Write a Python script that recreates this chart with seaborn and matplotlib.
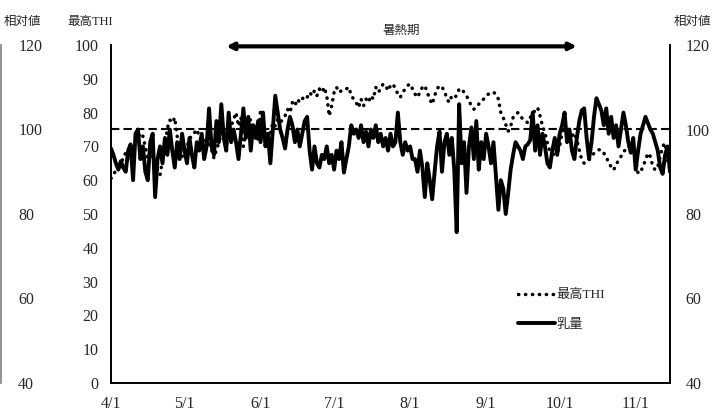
import matplotlib
matplotlib.use("Agg")
import matplotlib.pyplot as plt
import numpy as np
import pandas as pd
import seaborn as sns

# daily values from 4/1 (day 0)
thi_max = [
    60.5, 61.5, 63, 65, 64, 67, 68, 66, 70, 69,
    71, 72.5, 74, 73, 70, 66, 70, 67, 64, 63,
    61.5, 66, 70, 75.5, 77.8, 77, 78.5, 73, 70, 67,
    69, 70, 72, 73.5, 74, 75, 73, 71, 72, 73,
    71, 69, 66.5, 69, 71, 74, 73, 70.5, 74, 76,
    78, 80, 76, 78.5, 70, 74, 77, 78, 73, 75,
    72, 81, 76, 72, 70, 74, 77, 76, 78, 77,
    78, 79, 81, 80, 83, 82, 84, 83, 84, 85,
    84.5, 86, 85, 86.5, 85, 87, 86, 87.5, 85, 79,
    82, 86, 87.5, 86, 86.5, 86.5, 87, 87.5, 85, 84,
    83, 81.5, 84, 82, 84, 83, 85, 84, 87.5, 86,
    87, 88.5, 88, 86.5, 88, 88.5, 87, 85.5, 84.5, 86,
    87, 88, 88.5, 87, 85.5, 84.5, 86, 87.5, 88, 86,
    84, 82.5, 85, 87, 88, 87.5, 86.5, 84, 83, 85,
    84.5, 85, 87, 87, 86, 85, 83.5, 82, 81, 81.5,
    82.5, 83.5, 84, 85, 85.5, 86, 86, 85.5, 84, 80,
    78.5, 76.5, 74.5, 76, 78.5, 79.5, 80, 79, 78, 77.5,
    77, 78.5, 80, 80.5, 81.5, 79, 76, 74, 71, 68.5,
    68, 67.5, 68, 70, 74, 76.5, 74, 72, 73, 74,
    72, 69, 66, 65, 65.5, 66, 67, 68, 68.5, 69,
    69, 68, 67, 65, 64, 63, 64.5, 66, 67, 68.5,
    69, 70, 69.5, 69, 66, 62, 62.5, 64, 66, 68,
    67, 64, 63, 64, 67, 70, 71, 66, 63,
]

milk_rel = [
    95.5, 94, 92, 90.5, 92.5, 91, 90, 95, 96.5, 88,
    99, 100, 93, 96, 90, 88, 97, 99, 84, 93,
    96, 92, 98, 94, 100, 95, 91, 97, 93, 99,
    95, 92, 98, 94, 91, 97, 95, 99, 93, 96,
    105, 96, 94, 102, 97, 106, 98, 95, 104, 97,
    100, 97, 93, 99, 105, 98, 103, 95, 101, 98,
    102, 97, 104, 96, 99, 92, 100, 108, 104, 100,
    98, 95.5, 100, 103, 101, 97, 100, 96, 99, 102,
    103, 95, 90.5, 96, 92, 91, 94, 93, 96, 92,
    94, 90.5, 95, 93, 97, 89.8, 93, 96, 101, 99,
    100, 98, 101, 97, 99.5, 96, 100, 98, 101, 97,
    99, 96, 98, 95, 99, 96, 97, 104, 97, 94,
    97, 95, 96, 93, 93, 90, 95, 91, 84, 92,
    88, 83.5, 90, 96, 99.5, 90, 97, 99, 94, 98,
    90.5, 75.7, 106, 92, 97, 85, 96, 100.5, 93, 102,
    90.5, 97, 93, 99, 96, 92, 97, 89, 81, 88,
    86, 80, 85, 90.5, 94, 97, 96, 95, 93, 96,
    96.5, 97.5, 104, 95, 101, 94, 99, 96, 92, 91,
    95, 98, 94, 99, 101, 104, 97, 100, 95, 93,
    98, 102, 104.5, 105, 98, 93, 97, 103, 107.4, 106,
    104.5, 101, 105, 99, 103, 98, 101, 96, 100, 104,
    101, 97, 94.5, 98, 90.5, 95, 99, 101, 103, 101.5,
    100, 99, 97, 95, 91, 89.5, 94, 96, 90,
]

month_days = [0, 30, 61, 91, 122, 153, 183, 214]
month_labels = ["4/1", "5/1", "6/1", "7/1", "8/1", "9/1", "10/1", "11/1"]
heat_start, heat_end = 47, 190

df = pd.DataFrame({"day": np.arange(len(thi_max)), "thi": thi_max, "milk": milk_rel})

sns.set_style("white")
plt.rcParams["font.family"] = ["Liberation Serif", "Noto Sans CJK JP"]

W, H = 712, 412
fig = plt.figure(figsize=(W / 100, H / 100), dpi=100)
left, right, top, bottom = 111, 670, 45, 383
ax = fig.add_axes([left / W, 1 - bottom / H, (right - left) / W, (bottom - top) / H])
ax2 = ax.twinx()

sns.lineplot(data=df, x="day", y="thi", ax=ax, color="black", lw=2.5,
             linestyle=(0, (0.1, 1.9)), dash_capstyle="round", legend=False)
sns.lineplot(data=df, x="day", y="milk", ax=ax2, color="black", lw=2.8, legend=False)
ax2.axhline(100, color="black", lw=1.5, linestyle=(0, (4, 2)))

ax.set_xlim(0, 228)
ax.set_ylim(0, 100)
ax2.set_ylim(40, 120)
ax.set_yticks(range(0, 101, 10))
ax2.set_yticks(range(40, 121, 20))
ax.set_xticks(month_days)
ax.set_xticklabels(month_labels)
ax.set_xlabel("")
ax.set_ylabel("")
ax2.set_ylabel("")
ax.tick_params(axis="both", length=0, labelsize=11.5, pad=9)
ax2.tick_params(axis="y", length=0, labelsize=11.5, pad=11)
for a in (ax, ax2):
    a.spines["top"].set_visible(False)
    for s in ("left", "right", "bottom"):
        a.spines[s].set_color("black")
        a.spines[s].set_linewidth(1.2)

# far-left relative-value axis
ax3 = fig.add_axes([1 / W, 1 - bottom / H, 0.5 / W, (bottom - top) / H])
ax3.set_ylim(40, 120)
ax3.set_yticks(range(40, 121, 20))
ax3.set_xticks([])
ax3.yaxis.tick_right()
ax3.tick_params(axis="y", length=0, labelsize=11.5, pad=12)
for s in ("top", "right", "bottom"):
    ax3.spines[s].set_visible(False)
ax3.spines["left"].set_color("#808080")
ax3.spines["left"].set_linewidth(1.2)
ax3.patch.set_alpha(0)

# heat period arrow
ax.annotate("", xy=(heat_start, 99.6), xytext=(heat_end, 99.6),
            arrowprops=dict(arrowstyle="<|-|>", lw=3, color="black",
                            shrinkA=0, shrinkB=0, mutation_scale=10),
            annotation_clip=False)
ax.text((heat_start + heat_end) / 2, 104.3, "暑熱期", ha="center", va="center",
        fontsize=9)

fig.text(22 / W, 1 - 22 / H, "相対値", ha="center", va="center", fontsize=9)
fig.text(90 / W, 1 - 22 / H, "最高THI", ha="center", va="center", fontsize=9)
fig.text(711 / W, 1 - 22 / H, "相対値", ha="right", va="center", fontsize=9)

handles = [ax.lines[0], ax2.lines[0]]
ax2.legend(handles, ["最高THI", "乳量"], loc="upper left",
           bbox_to_anchor=(518 / W, 1 - 289 / H), bbox_transform=fig.transFigure,
           frameon=False, fontsize=9.5, handlelength=2.8, handletextpad=0.1,
           labelspacing=1.3, borderpad=0, borderaxespad=0)

plt.savefig("out.png", dpi=100)
